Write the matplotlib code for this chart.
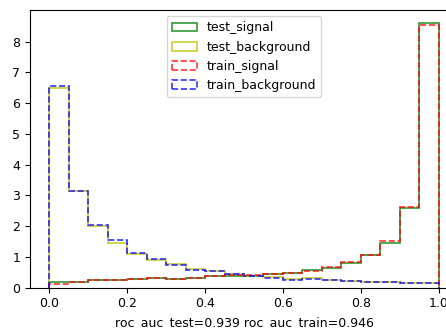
import numpy as np
import matplotlib.pyplot as plt

plt.rcParams['font.size'] = 9

# 20 bins on the classifier output, normalised (density)
bin_edges = np.linspace(0, 1, 21)

test_signal = [0.17, 0.19, 0.24, 0.24, 0.28, 0.33, 0.28, 0.32, 0.37, 0.39,
               0.39, 0.45, 0.48, 0.56, 0.63, 0.81, 1.08, 1.46, 2.59, 8.60]
test_background = [6.48, 3.16, 2.01, 1.45, 1.10, 0.90, 0.77, 0.60, 0.55, 0.43,
                   0.38, 0.35, 0.29, 0.30, 0.25, 0.23, 0.19, 0.19, 0.16, 0.16]
train_signal = [0.12, 0.19, 0.24, 0.24, 0.28, 0.30, 0.29, 0.32, 0.38, 0.40,
                0.40, 0.46, 0.48, 0.55, 0.68, 0.84, 1.08, 1.51, 2.61, 8.55]
train_background = [6.57, 3.16, 2.05, 1.56, 1.13, 0.92, 0.75, 0.57, 0.54, 0.45,
                    0.39, 0.31, 0.25, 0.27, 0.24, 0.22, 0.18, 0.18, 0.14, 0.14]

centers = (bin_edges[:-1] + bin_edges[1:]) / 2

fig = plt.figure(figsize=(4.46, 3.29), dpi=100)
ax = fig.add_axes([0.0673, 0.1255, 0.9596, 0.844])

ax.hist(centers, bins=bin_edges, weights=test_signal, histtype='step',
        color='g', alpha=0.8, label='test_signal', linewidth=1.2)
ax.hist(centers, bins=bin_edges, weights=test_background, histtype='step',
        color='y', alpha=0.8, label='test_background', linewidth=1.2)
ax.hist(centers, bins=bin_edges, weights=train_signal, histtype='step',
        color='r', alpha=0.8, linestyle='--', label='train_signal', linewidth=1.2)
ax.hist(centers, bins=bin_edges, weights=train_background, histtype='step',
        color='b', alpha=0.8, linestyle='--', label='train_background', linewidth=1.2)

ax.set_yticks(range(0, 9))
ax.set_xlabel('roc_auc_test=0.939 roc_auc_train=0.946')
ax.legend(loc='upper center')

fig.savefig('out.png', dpi=100)
